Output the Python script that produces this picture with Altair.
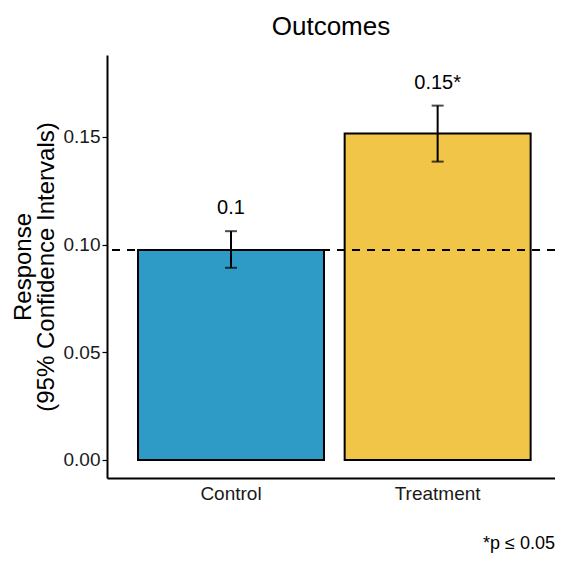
import altair as alt
import pandas as pd

groups = ["Control", "Treatment"]
means = [0.0975, 0.1515]
lower = [0.0892, 0.1385]
upper = [0.1062, 0.1645]
labels = ["0.1", "0.15*"]
colors = ["#2E9AC6", "#F0C548"]
ref_line = [0.0975]
caption = "*p \u2264 0.05"

df = pd.DataFrame({"group": groups, "mean": means, "lower": lower,
                   "upper": upper, "label": labels})

W, H = 448, 423
font = "Liberation Sans"

xs = alt.Scale(domain=groups, paddingInner=0.1, paddingOuter=0.134, align=0.56)
x = alt.X("group:N", sort=groups, scale=xs,
          axis=alt.Axis(title=None, labelAngle=0, labelFontSize=19, labelColor="#1a1a1a",
                        labelFont=font, ticks=False, labelPadding=6,
                        domainColor="black", domainWidth=2))
y = alt.Y("mean:Q", scale=alt.Scale(domain=[-0.0084, 0.188], nice=False, zero=False),
          axis=alt.Axis(title=["Response", "(95% Confidence Intervals)"],
                        values=[0, 0.05, 0.1, 0.15], format=".2f",
                        labelFontSize=19, labelColor="#1a1a1a", labelFont=font, labelPadding=2,
                        titleFontSize=24, titleFont=font, titleFontWeight="normal",
                        titleColor="black", titlePadding=5, titleLineHeight=23,
                        tickColor="black", tickSize=5, tickWidth=1.2, grid=False,
                        domainColor="black", domainWidth=2))
xg = alt.X("group:N", sort=groups, scale=xs)

base = alt.Chart(df)
bars = base.mark_bar(stroke="black", strokeWidth=2).encode(
    x=x, y=y, y2=alt.Y2(datum=0),
    color=alt.Color("group:N", scale=alt.Scale(domain=groups, range=colors), legend=None))
rules = base.mark_rule(color="black", strokeWidth=2).encode(
    x=xg, y="lower:Q", y2="upper:Q")
cap_hi = base.mark_tick(color="black", thickness=2, size=12).encode(x=xg, y="upper:Q")
cap_lo = base.mark_tick(color="black", thickness=2, size=12).encode(x=xg, y="lower:Q")
text = base.mark_text(fontSize=20, font=font, color="black", dy=-23, baseline="middle").encode(
    x=xg, y="upper:Q", text="label:N")
dash = alt.Chart(pd.DataFrame({"v": ref_line})).mark_rule(
    color="black", strokeWidth=2, strokeDash=[8, 7]).encode(y="v:Q")
cap = alt.Chart(pd.DataFrame({"t": [caption]})).mark_text(
    fontSize=18, font=font, color="black", align="right", baseline="alphabetic").encode(
    text="t:N", x=alt.value(W), y=alt.value(H + 71))

chart = alt.layer(bars, dash, rules, cap_hi, cap_lo, text, cap).properties(
    width=W, height=H,
    title=alt.TitleParams("Outcomes", fontSize=26, font=font, fontWeight="normal",
                          color="black", anchor="middle", offset=15),
    autosize=alt.AutoSizeParams(type="none"),
    padding={"left": 99, "top": 47, "right": 0, "bottom": 75},
).configure_view(stroke=None)

chart.save("out.html", embed_options={"renderer": "svg", "actions": False})
